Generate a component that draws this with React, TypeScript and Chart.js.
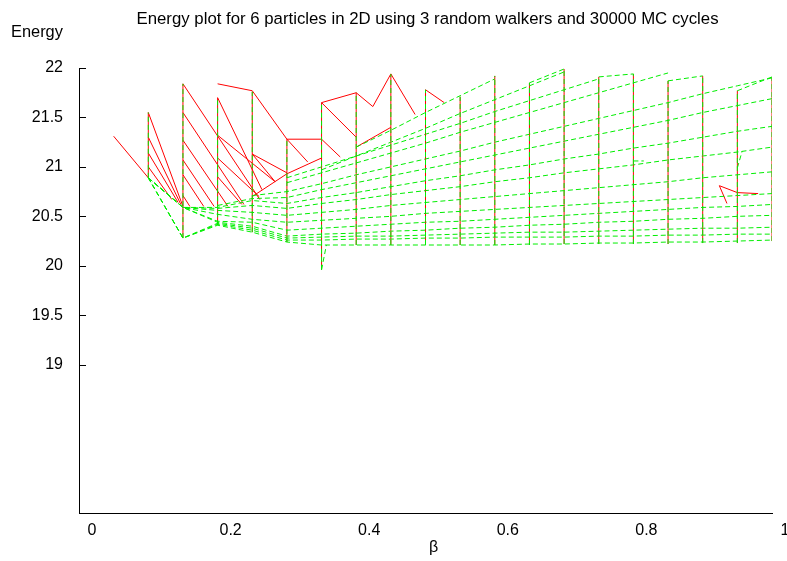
import React, { useEffect, useRef } from "react";
import { Chart, registerables } from "chart.js";

Chart.register(...registerables);

const TITLE = "Energy plot for 6 particles in 2D using 3 random walkers and 30000 MC cycles";
const Y_LABEL = "Energy";
const X_LABEL = "β";
const FONT = "'Liberation Sans', Arial, sans-serif";

const yTicks = [19, 19.5, 20, 20.5, 21, 21.5, 22];
const xTicks = [0, 0.2, 0.4, 0.6, 0.8, 1];

// beta grid columns
const betaCols = [0.1, 0.15, 0.2, 0.25, 0.3, 0.35, 0.4, 0.45, 0.5, 0.55, 0.6, 0.65, 0.7, 0.75, 0.8, 0.85, 0.9, 0.95, 1.0];
// extent of the iso-beta lines (seen edge-on as vertical lines)
const colTop = [21.55, 21.84, 21.70, 21.76, 21.28, 21.65, 21.75, 21.94, 21.78, 21.71, 21.92, 21.85, 21.99, 21.91, 21.94, 21.87, 21.92, 21.77, 21.91];
const colBottom = [20.89, 20.28, 20.41, 20.34, 20.24, 19.96, 20.21, 20.21, 20.21, 20.21, 20.21, 20.21, 20.22, 20.22, 20.22, 20.22, 20.23, 20.23, 20.25];

// iso-alpha curves: energy at each beta column (null = outside plotted range)
const curveA1 = [20.89, 20.28, 20.41, 20.34, 20.24, 20.21, 20.21, 20.21, 20.21, 20.21, 20.21, 20.22, 20.22, 20.23, 20.23, 20.24, 20.24, 20.25, 20.26];
const curveA2 = [20.89, 20.28, 20.42, 20.36, 20.26, 20.26, 20.27, 20.27, 20.28, 20.28, 20.29, 20.29, 20.29, 20.30, 20.30, 20.31, 20.31, 20.32, 20.32];
const curveA3 = [20.89, 20.28, 20.43, 20.38, 20.28, 20.29, 20.30, 20.30, 20.31, 20.32, 20.33, 20.34, 20.34, 20.35, 20.36, 20.37, 20.38, 20.38, 20.39];
const curveA4 = [20.89, 20.59, 20.44, 20.40, 20.30, 20.32, 20.33, 20.35, 20.36, 20.38, 20.39, 20.41, 20.42, 20.44, 20.45, 20.47, 20.48, 20.50, 20.51];
const curveA5 = [20.89, 20.59, 20.45, 20.44, 20.36, 20.38, 20.40, 20.42, 20.44, 20.45, 20.47, 20.49, 20.51, 20.53, 20.55, 20.57, 20.59, 20.60, 20.62];
const curveA6 = [20.89, 20.59, 20.52, 20.47, 20.44, 20.46, 20.48, 20.50, 20.53, 20.55, 20.57, 20.59, 20.61, 20.63, 20.65, 20.67, 20.69, 20.71, 20.73];
const curveA7 = [20.89, 20.59, 20.56, 20.54, 20.51, 20.54, 20.57, 20.61, 20.64, 20.67, 20.70, 20.73, 20.76, 20.79, 20.82, 20.85, 20.89, 20.92, 20.95];
const curveA8 = [20.89, 20.59, 20.58, 20.61, 20.58, 20.63, 20.67, 20.72, 20.76, 20.80, 20.85, 20.89, 20.94, 20.98, 21.02, 21.07, 21.11, 21.15, 21.20];
const curveA9 = [null, 20.59, 20.59, 20.66, 20.63, 20.69, 20.74, 20.80, 20.86, 20.91, 20.97, 21.02, 21.08, 21.13, 21.19, 21.24, 21.30, 21.36, 21.41];
const curveA10 = [null, null, 20.61, 20.68, 20.69, 20.77, 20.84, 20.91, 20.98, 21.05, 21.12, 21.19, 21.26, 21.33, 21.40, 21.47, 21.55, 21.62, 21.69];
const curveA11 = [null, null, null, 20.71, 20.75, 20.83, 20.92, 21.00, 21.08, 21.16, 21.25, 21.33, 21.41, 21.49, 21.57, 21.65, 21.74, 21.82, 21.90];
const curveA12 = [null, null, null, null, 20.84, 20.94, 21.04, 21.14, 21.24, 21.35, 21.45, 21.55, 21.65, 21.75, 21.85, 21.95, null, null, null];
const curveA13 = [null, null, null, null, 20.89, 21.00, 21.11, 21.22, 21.33, 21.44, 21.56, 21.67, 21.78, 21.89, null, null, null, null, null];
const curveA14 = [null, null, null, null, null, 20.97, 21.11, 21.25, 21.39, 21.54, 21.68, 21.82, 21.96, null, null, null, null, null, null];
const curveA15 = [null, null, null, null, null, null, 21.20, 21.37, 21.55, 21.72, 21.89, null, null, null, null, null, null, null, null];
const greenCurves = [curveA1, curveA2, curveA3, curveA4, curveA5, curveA6, curveA7, curveA8, curveA9, curveA10, curveA11, curveA12, curveA13, curveA14, curveA15];

// short extra green pieces: dip below 20 at beta 0.35 and edges along the top
const greenExtra: number[][][] = [
  [[0.35, 19.96], [0.357, 20.21]],
  [[0.65, 21.85], [0.7, 21.99]],
  [[0.75, 21.91], [0.8, 21.94]],
  [[0.85, 21.87], [0.9, 21.92]],
  [[0.95, 21.77], [1.0, 21.91]],
  [[0.8, 21.06], [0.815, 21.06]],
  [[0.95, 20.99], [0.957, 21.16]],
];

// top-side (red) edges: [beta, energy] polylines
const redPaths: number[][][] = [
  [[0.05, 21.31], [0.1, 20.89]],
  [[0.1, 21.55], [0.15, 20.60]],
  [[0.1, 21.30], [0.147, 20.62]],
  [[0.1, 21.14], [0.143, 20.64]],
  [[0.1, 21.00], [0.134, 20.67]],
  [[0.15, 21.84], [0.261, 20.67]],
  [[0.15, 21.55], [0.238, 20.62]],
  [[0.15, 21.27], [0.215, 20.60]],
  [[0.15, 21.07], [0.195, 20.60]],
  [[0.15, 20.92], [0.18, 20.60]],
  [[0.15, 20.71], [0.16, 20.60]],
  [[0.2, 21.70], [0.264, 20.77]],
  [[0.2, 21.32], [0.283, 20.85]],
  [[0.2, 21.09], [0.26, 20.70]],
  [[0.2, 20.90], [0.235, 20.62]],
  [[0.2, 21.84], [0.25, 21.77], [0.3, 21.28], [0.35, 21.28]],
  [[0.25, 21.13], [0.283, 20.85]],
  [[0.25, 21.13], [0.3, 20.94]],
  [[0.25, 20.70], [0.3, 20.93], [0.35, 21.09]],
  [[0.3, 21.28], [0.33, 21.05]],
  [[0.35, 21.28], [0.377, 21.10]],
  [[0.35, 21.65], [0.4, 21.75], [0.424, 21.61], [0.45, 21.94], [0.485, 21.53]],
  [[0.35, 21.65], [0.4, 21.30]],
  [[0.4, 21.20], [0.45, 21.40]],
  [[0.5, 21.78], [0.527, 21.65]],
  [[0.924, 20.81], [0.95, 20.74], [0.98, 20.73]],
  [[0.924, 20.81], [0.935, 20.63]],
];

const RED = "#ff0000";
const GREEN = "#00ee00";

export default function App() {
  const canvasRef = useRef<HTMLCanvasElement | null>(null);

  useEffect(() => {
    const canvas = canvasRef.current;
    if (!canvas) return;

    const base = { showLine: true, pointRadius: 0, pointHoverRadius: 0, fill: false, tension: 0 };
    const datasets: any[] = [];
    // Chart.js paints the first dataset on top: green dashes first, red underneath
    betaCols.forEach((b, i) => {
      datasets.push({ ...base, data: [{ x: b, y: colBottom[i] }, { x: b, y: colTop[i] }], borderColor: GREEN, borderWidth: 1, borderDash: [5, 3] });
    });
    greenExtra.forEach((p) => {
      datasets.push({ ...base, data: p.map(([x, y]) => ({ x, y })), borderColor: GREEN, borderWidth: 1, borderDash: [5, 3] });
    });
    greenCurves.forEach((c) => {
      const pts = betaCols.map((b, i) => ({ x: b, y: c[i] })).filter((p) => p.y !== null);
      datasets.push({ ...base, data: pts, borderColor: GREEN, borderWidth: 1, borderDash: [5, 3] });
    });
    redPaths.forEach((p) => {
      datasets.push({ ...base, data: p.map(([x, y]) => ({ x, y })), borderColor: RED, borderWidth: 1 });
    });
    betaCols.forEach((b, i) => {
      datasets.push({ ...base, data: [{ x: b, y: colBottom[i] }, { x: b, y: colTop[i] }], borderColor: RED, borderWidth: 1 });
    });

    const overlay = {
      id: "overlay",
      afterDraw(chart: any) {
        const { ctx, chartArea, scales } = chart;
        ctx.save();
        ctx.strokeStyle = "#000";
        ctx.lineWidth = 1;
        for (const v of yTicks) {
          const py = Math.round(scales.y.getPixelForValue(v)) + 0.5;
          ctx.beginPath();
          ctx.moveTo(chartArea.left, py);
          ctx.lineTo(chartArea.left + 7, py);
          ctx.stroke();
        }
        ctx.fillStyle = "#000";
        ctx.textBaseline = "middle";
        ctx.textAlign = "center";
        ctx.font = `16.8px ${FONT}`;
        ctx.fillText(TITLE, (chartArea.left + chartArea.right) / 2 + 2, 19);
        ctx.font = `16.4px ${FONT}`;
        ctx.textAlign = "left";
        ctx.fillText(Y_LABEL, chartArea.left - 68, 32);
        ctx.textAlign = "center";
        ctx.font = `16px ${FONT}`;
        ctx.fillText(X_LABEL, (chartArea.left + chartArea.right) / 2 + 8, 548);
        ctx.restore();
      },
    };

    const chart = new Chart(canvas, {
      type: "scatter",
      data: { datasets },
      plugins: [overlay],
      options: {
        animation: false,
        responsive: true,
        maintainAspectRatio: false,
        layout: { padding: { top: 68, right: 15, bottom: 0, left: 0 } },
        plugins: { legend: { display: false }, tooltip: { enabled: false }, title: { display: false } },
        scales: {
          x: {
            type: "linear",
            min: 0,
            max: 1,
            afterBuildTicks: (scale: any) => {
              scale.ticks = xTicks.map((v) => ({ value: v }));
            },
            afterFit: (scale: any) => {
              scale.height = 48;
            },
            ticks: {
              color: "#000",
              font: { family: FONT, size: 16 },
              padding: 8,
              labelOffset: 13,
              maxRotation: 0,
              autoSkip: false,
              callback: (v: any) => String(v),
            },
            grid: { display: false, drawTicks: false },
            border: { display: true, color: "#000", width: 1 },
          },
          y: {
            type: "linear",
            min: 17.5,
            max: 22,
            afterBuildTicks: (scale: any) => {
              scale.ticks = yTicks.map((v) => ({ value: v }));
            },
            afterFit: (scale: any) => {
              scale.width = 79;
            },
            ticks: {
              color: "#000",
              font: { family: FONT, size: 16 },
              padding: 16,
              autoSkip: false,
              callback: (v: any) => String(v),
            },
            grid: { display: false, drawTicks: false },
            border: { display: true, color: "#000", width: 1 },
          },
        },
      },
    });
    return () => chart.destroy();
  }, []);

  return (
    <div style={{ position: "fixed", left: 0, top: 0, width: 787, height: 561, background: "#fff" }}>
      <canvas ref={canvasRef} />
    </div>
  );
}
